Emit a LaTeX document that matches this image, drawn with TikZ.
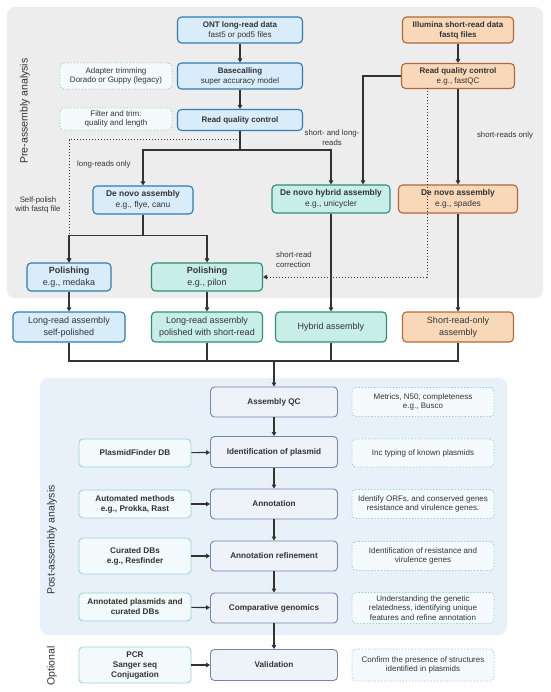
\documentclass[tikz,border=0pt]{standalone}
\usepackage{fontspec}
\setmainfont{Liberation Sans}
\usepackage{xcolor}
\usepackage{tikz}
\usetikzlibrary{arrows.meta}
\usetikzlibrary{positioning}
\usetikzlibrary{backgrounds}
\usetikzlibrary{calc}
\definecolor{greybg}{HTML}{EDEDED}
\definecolor{bluebg}{HTML}{E8F1FA}
\definecolor{ontfill}{HTML}{D8ECFA}
\definecolor{ontline}{HTML}{2F7BB3}
\definecolor{illfill}{HTML}{F9D8BA}
\definecolor{illline}{HTML}{B3683B}
\definecolor{hybfill}{HTML}{C8EEE8}
\definecolor{hybline}{HTML}{2E8C7B}
\definecolor{postfill}{HTML}{EEF2F9}
\definecolor{postline}{HTML}{7387AD}
\definecolor{dbfill}{HTML}{F2FAFC}
\definecolor{dbline}{HTML}{98D5D9}
\definecolor{notefill}{HTML}{F5FAFC}
\definecolor{noteline}{HTML}{8CCBCC}
\definecolor{ink}{HTML}{333333}
\tikzset{
  box/.style = {align=center, inner sep=0pt, rounded corners=4pt,
    line width=1.1pt, text=ink},
  ont_b/.style = {box, draw=ontline, fill=ontfill},% long-read branch
  ill_b/.style = {box, draw=illline, fill=illfill},% short-read branch
  hyb_b/.style = {box, draw=hybline, fill=hybfill},% hybrid / short-read polished
  post_b/.style = {box, draw=postline, fill=postfill, line width=0.9pt,
    minimum width=127pt, minimum height=30pt, font=\fontsize{8.2}{10}\selectfont\bfseries},
  db_b/.style = {box, draw=dbline, fill=dbfill, line width=0.9pt,
    minimum width=112pt, font=\fontsize{8.2}{10}\selectfont\bfseries},
  note_b/.style = {box, draw=noteline, fill=notefill, dotted, line width=0.9pt,
    font=\fontsize{8}{9.8}\selectfont},
  lbl/.style = {align=center, inner sep=0pt, text=ink,
    font=\fontsize{7.8}{9.8}\selectfont},
  side/.style = {rotate=90, inner sep=0pt, text=ink,
    font=\fontsize{10.5}{12}\selectfont},
  flow/.style = {draw=ink, line width=1.1pt},
  sm/.style = {font=\fontsize{8}{10}\selectfont},
  md/.style = {font=\fontsize{8.4}{10.4}\selectfont},
  lg/.style = {font=\fontsize{9}{11.5}\selectfont}
}
\begin{document}
\begin{tikzpicture}[x=1pt,y=-1pt,>={Triangle[length=4pt,width=4.5pt]}]
\useasboundingbox (0,0) rectangle (550,692);
% backgrounds
\fill[greybg, rounded corners=8pt] (7,7) rectangle (543,298);
\fill[bluebg, rounded corners=8pt] (40,378) rectangle (507,635);
\node[side] (pre) at (25,111) {Pre-assembly analysis};
\node[side] (post) at (52,540) {Post-assembly analysis};
\node[side] (opt) at (52,666) {Optional};

% pre-assembly
\node[ont_b, sm, minimum width=125pt, minimum height=26pt] (ont) at (240,30)
  {\textbf{ONT long-read data}\\fast5 or pod5 files};
\node[ont_b, sm, minimum width=125pt, minimum height=26pt] (base) at (240,76)
  {\textbf{Basecalling}\\super accuracy model};
\node[ont_b, sm, minimum width=125pt, minimum height=21pt] (rqcl) at (240,120)
  {\textbf{Read quality control}};
\node[note_b, minimum width=112pt, minimum height=26pt] (adapt) at (116,76)
  {Adapter trimming\\Dorado or Guppy (legacy)};
\node[note_b, minimum width=112pt, minimum height=22pt] (filt) at (116,119)
  {Filter and trim:\\quality and length};
\node[ill_b, sm, minimum width=111pt, minimum height=26pt] (illu) at (458,30)
  {\textbf{Illumina short-read data}\\\textbf{fastq files}};
\node[ill_b, sm, minimum width=113pt, minimum height=25pt] (rqcr) at (458,76)
  {\textbf{Read quality control}\\e.g., fastQC};
\node[ont_b, md, minimum width=100pt, minimum height=28pt] (dnl) at (143,200)
  {\textbf{De novo assembly}\\e.g., flye, canu};
\node[hyb_b, md, minimum width=118pt, minimum height=28pt] (dnh) at (331,199)
  {\textbf{De novo hybrid assembly}\\e.g., unicycler};
\node[ill_b, md, minimum width=119pt, minimum height=28pt] (dns) at (458,199)
  {\textbf{De novo assembly}\\e.g., spades};
\node[ont_b, lg, minimum width=84pt, minimum height=28pt] (medaka) at (69,277)
  {\textbf{Polishing}\\e.g., medaka};
\node[hyb_b, lg, minimum width=111pt, minimum height=28pt] (pilon) at (207,277)
  {\textbf{Polishing}\\e.g., pilon};

% assemblies
\node[ont_b, lg, minimum width=112pt, minimum height=30pt] (lrself) at (69,327)
  {Long-read assembly\\self-polished};
\node[hyb_b, lg, minimum width=111pt, minimum height=30pt] (lrpol) at (207,327)
  {Long-read assembly\\polished with short-read};
\node[hyb_b, lg, minimum width=111pt, minimum height=30pt] (hyasm) at (331,327)
  {Hybrid assembly};
\node[ill_b, lg, minimum width=111pt, minimum height=30pt] (srasm) at (458,327)
  {Short-read-only\\assembly};

% labels
\node[lbl, anchor=west] (lronly) at (77,164) {long-reads only};
\node[lbl] (slr) at (332,138) {short- and long-\\reads};
\node[lbl] (sronly) at (505,135) {short-reads only};
\node[lbl] (selfp) at (38,205) {Self-polish\\with fastq file};
\node[lbl, align=left, anchor=west] (corr) at (276,260) {short-read\\correction};

% post-assembly
\node[post_b] (aqc) at (274,402) {Assembly QC};
\node[post_b, minimum height=31pt] (idpl) at (274,452) {Identification of plasmid};
\node[post_b] (annot) at (274,504) {Annotation};
\node[post_b] (annref) at (274,556) {Annotation refinement};
\node[post_b] (compg) at (274,608) {Comparative genomics};
\node[post_b, minimum height=31pt] (valid) at (274,665) {Validation};

\node[db_b, minimum height=28pt] (plf) at (135,453) {PlasmidFinder DB};
\node[db_b, minimum height=28pt] (autom) at (135,504) {Automated methods\\e.g., Prokka, Rast};
\node[db_b, minimum height=36pt] (curdb) at (135,556) {Curated DBs\\e.g., Resfinder};
\node[db_b, minimum height=28pt] (annpl) at (135,607) {Annotated plasmids and\\curated DBs};
\node[db_b, minimum height=36pt] (pcr) at (135,665) {PCR\\Sanger seq\\Conjugation};

\node[note_b, minimum width=142pt, minimum height=29pt] (metr) at (423,402)
  {Metrics, N50, completeness\\e.g., Busco};
\node[note_b, minimum width=142pt, minimum height=28pt] (inc) at (423,453)
  {Inc typing of known plasmids};
\node[note_b, minimum width=142pt, minimum height=29pt] (orf) at (423,504)
  {Identify ORFs, and conserved genes\\resistance and virulence genes.};
\node[note_b, minimum width=142pt, minimum height=29pt] (resv) at (423,556)
  {Identification of resistance and\\virulence genes};
\node[note_b, minimum width=142pt, minimum height=31pt] (under) at (423,608)
  {Understanding the genetic\\relatedness, identifying unique\\features and refine annotation};
\node[note_b, minimum width=142pt, minimum height=32pt] (conf) at (423,665)
  {Confirm the presence of structures\\identified in plasmids};

% connectors, pre-assembly
\coordinate (lrsplit) at (240,140);
\coordinate (srsplit) at (427,88);
\coordinate (merge) at (458,361);
\draw[flow,->] (ont) -- (base);
\draw[flow,->] (base) -- (rqcl);
\draw[flow,->] (rqcl.south) -- ++(0,19) -| (dnl.north);
\draw[flow,->] (rqcl.south) -- ++(0,19) -| (dnh.north);
\draw[flow,->] (rqcr.west) -| ([xshift=32pt]dnh.north);
\draw[flow,->] (illu) -- (rqcr);
\draw[flow,->] (rqcr) -- (dns);
\draw[flow,->] (dnl.south) -- ++(0,21) -| (medaka.north);
\draw[flow,->] (dnl.south) -- ++(0,21) -| (pilon.north);
\draw[ink, line width=1pt, dotted, ->] (lrsplit) -| (medaka.north);
\draw[ink, line width=1pt, dotted, ->] (srsplit) |- (pilon.east);
\draw[flow,->] (medaka) -- (lrself);
\draw[flow,->] (pilon) -- (lrpol);
\draw[flow,->] (dnh) -- (hyasm);
\draw[flow,->] (dns) -- (srasm);

% merge into QC
\draw[flow] (lrself.south) |- (merge) -- (srasm.south);
\draw[flow] (lrpol.south) -- (lrpol.south |- merge);
\draw[flow] (hyasm.south) -- (hyasm.south |- merge);
\draw[flow,->] (aqc.north |- merge) -- (aqc.north);

% connectors, post-assembly
\draw[flow,->] (aqc) -- (idpl);
\draw[flow,->] (idpl) -- (annot);
\draw[flow,->] (annot) -- (annref);
\draw[flow,->] (annref) -- (compg);
\draw[flow,->] (compg) -- (valid);
\foreach \a/\b in {plf/idpl, autom/annot, curdb/annref, annpl/compg, pcr/valid}
  \draw[flow,->] (\a) -- (\b);
\end{tikzpicture}
\end{document}
